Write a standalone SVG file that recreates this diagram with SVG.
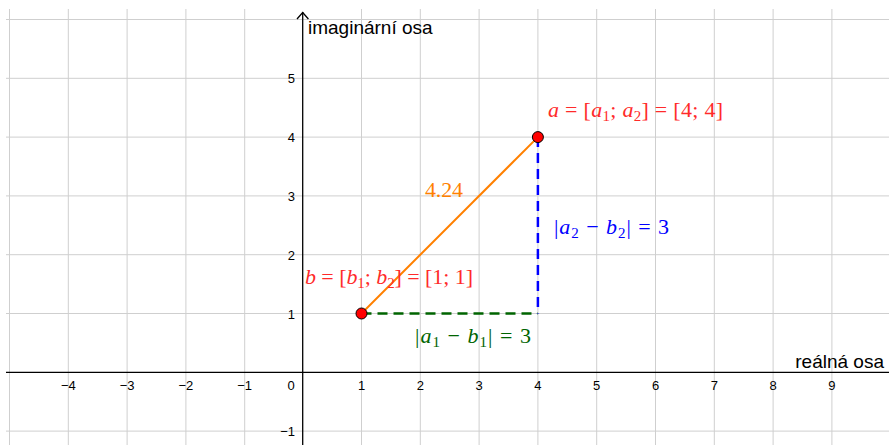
<svg xmlns="http://www.w3.org/2000/svg" width="889" height="445" viewBox="0 0 889 445">
<style>
.grid line{stroke:#cfcfcf;stroke-width:1}
.axis{stroke:#000;stroke-width:1.3;fill:none}
.tick{font-family:"Liberation Sans",Arial,sans-serif;font-size:13px;fill:#000}
.axlab{font-family:"Liberation Sans",Arial,sans-serif;font-size:19px;fill:#000}
.m{font-family:"Liberation Serif","Times New Roman",serif;font-size:22px}
.it{font-style:italic}
.sub{font-size:15px}
.pt{fill:#ff0000;stroke:#000;stroke-width:1}
</style>
<rect width="889" height="445" fill="#fff"/>
<g id="grid" class="grid">
<line x1="9.5" y1="9" x2="9.5" y2="445"/>
<line x1="68.3" y1="9" x2="68.3" y2="445"/>
<line x1="127.1" y1="9" x2="127.1" y2="445"/>
<line x1="185.9" y1="9" x2="185.9" y2="445"/>
<line x1="244.7" y1="9" x2="244.7" y2="445"/>
<line x1="361.5" y1="9" x2="361.5" y2="445"/>
<line x1="420.3" y1="9" x2="420.3" y2="445"/>
<line x1="479.1" y1="9" x2="479.1" y2="445"/>
<line x1="537.9" y1="9" x2="537.9" y2="445"/>
<line x1="596.7" y1="9" x2="596.7" y2="445"/>
<line x1="655.5" y1="9" x2="655.5" y2="445"/>
<line x1="714.3" y1="9" x2="714.3" y2="445"/>
<line x1="773.1" y1="9" x2="773.1" y2="445"/>
<line x1="831.9" y1="9" x2="831.9" y2="445"/>
<line x1="6" y1="19.5" x2="889" y2="19.5"/>
<line x1="6" y1="78.3" x2="889" y2="78.3"/>
<line x1="6" y1="137.1" x2="889" y2="137.1"/>
<line x1="6" y1="195.9" x2="889" y2="195.9"/>
<line x1="6" y1="254.7" x2="889" y2="254.7"/>
<line x1="6" y1="313.5" x2="889" y2="313.5"/>
<line x1="6" y1="431.1" x2="889" y2="431.1"/>
</g>
<g id="axes">
<line class="axis" x1="6" y1="372.3" x2="889" y2="372.3"/>
<line class="axis" x1="302.7" y1="12" x2="302.7" y2="445"/>
<polyline class="axis" points="297,19 302.7,12.5 308.4,19"/>
<g class="tick" text-anchor="middle">
<text x="68.3" y="390">−4</text>
<text x="127.1" y="390">−3</text>
<text x="185.9" y="390">−2</text>
<text x="244.7" y="390">−1</text>
<text x="291" y="390">0</text>
<text x="361.5" y="390">1</text>
<text x="420.3" y="390">2</text>
<text x="479.1" y="390">3</text>
<text x="537.9" y="390">4</text>
<text x="596.7" y="390">5</text>
<text x="655.5" y="390">6</text>
<text x="714.3" y="390">7</text>
<text x="773.1" y="390">8</text>
<text x="831.9" y="390">9</text>
</g>
<g class="tick" text-anchor="end">
<text x="295" y="83.3">5</text>
<text x="295" y="142.1">4</text>
<text x="295" y="200.9">3</text>
<text x="295" y="259.7">2</text>
<text x="295" y="318.5">1</text>
<text x="295" y="436.1">−1</text>
</g>
<text class="axlab" x="308" y="34">imaginární osa</text>
<text class="axlab" x="884" y="368" text-anchor="end">reálná osa</text>
</g>
<g id="connectors">
<line x1="361.5" y1="313.5" x2="537.9" y2="137.1" stroke="#ff8000" stroke-width="2"/>
<line x1="537.9" y1="137.1" x2="537.9" y2="313.5" stroke="#0000ff" stroke-width="2.5" stroke-dasharray="10,6"/>
<line x1="361.5" y1="313.5" x2="537.9" y2="313.5" stroke="#006400" stroke-width="2.5" stroke-dasharray="10,6"/>
</g>
<g id="label-dist">
<text class="m" x="425" y="196.5" fill="#ff8000" textLength="38" lengthAdjust="spacing">4.24</text>
</g>
<g id="label-vert">
<text class="m" x="554" y="233.5" fill="#0000ff" textLength="115" lengthAdjust="spacing">|<tspan class="it">a</tspan><tspan class="sub" dy="4">2</tspan><tspan dy="-4"> − </tspan><tspan class="it">b</tspan><tspan class="sub" dy="4">2</tspan><tspan dy="-4">| = 3</tspan></text>
</g>
<g id="label-horiz">
<text class="m" x="415" y="342.5" fill="#006400" textLength="116" lengthAdjust="spacing">|<tspan class="it">a</tspan><tspan class="sub" dy="4">1</tspan><tspan dy="-4"> − </tspan><tspan class="it">b</tspan><tspan class="sub" dy="4">1</tspan><tspan dy="-4">| = 3</tspan></text>
</g>
<g id="point-a">
<circle class="pt" cx="537.9" cy="137.1" r="5.5"/>
<text class="m" x="548" y="117" fill="#ff2a2a" textLength="175" lengthAdjust="spacing"><tspan class="it">a</tspan> = [<tspan class="it">a</tspan><tspan class="sub" dy="4">1</tspan><tspan dy="-4">; </tspan><tspan class="it">a</tspan><tspan class="sub" dy="4">2</tspan><tspan dy="-4">] = [4; 4]</tspan></text>
</g>
<g id="point-b">
<circle class="pt" cx="361.5" cy="313.5" r="5.5"/>
<text class="m" x="305" y="284" fill="#ff2a2a" textLength="168" lengthAdjust="spacing"><tspan class="it">b</tspan> = [<tspan class="it">b</tspan><tspan class="sub" dy="4">1</tspan><tspan dy="-4">; </tspan><tspan class="it">b</tspan><tspan class="sub" dy="4">2</tspan><tspan dy="-4">] = [1; 1]</tspan></text>
</g>
</svg>
